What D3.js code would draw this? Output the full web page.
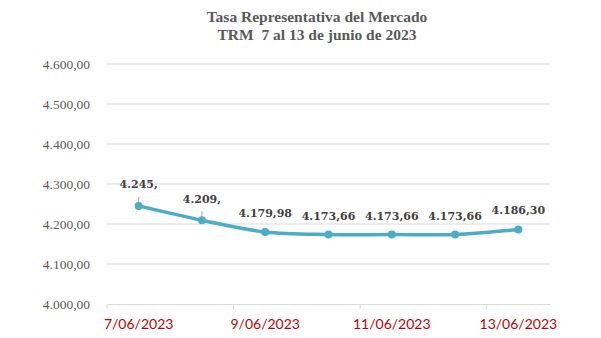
<!DOCTYPE html>
<html>
<head>
<meta charset="utf-8">
<script src="https://cdn.jsdelivr.net/npm/d3@7"></script>
<style>
  html, body { margin: 0; padding: 0; background: #fff; }
  svg { display: block; }
  .title { white-space: pre; }
</style>
</head>
<body>
<svg id="chart" width="601" height="338"></svg>
<script>
// TRM (Tasa Representativa del Mercado), 7–13 June 2023
const dates = ["7/06/2023", "8/06/2023", "9/06/2023", "10/06/2023", "11/06/2023", "12/06/2023", "13/06/2023"];
const trm = [4245.29, 4209.47, 4179.98, 4173.66, 4173.66, 4173.66, 4186.30];
const pointLabels = ["4.245,", "4.209,", "4.179,98", "4.173,66", "4.173,66", "4.173,66", "4.186,30"];
const yTicks = [4000, 4100, 4200, 4300, 4400, 4500, 4600];
const xTickLabels = ["7/06/2023", "9/06/2023", "11/06/2023", "13/06/2023"];
const titleLines = ["Tasa Representativa del Mercado", "TRM  7 al 13 de junio de 2023"];

const svg = d3.select("#chart");
const plot = { left: 107, right: 550, top: 64, bottom: 304 };

const x = d3.scaleBand().domain(dates).range([plot.left, plot.right]);
const y = d3.scaleLinear().domain([4000, 4600]).range([plot.bottom, plot.top]);
const cx = d => x(d) + x.bandwidth() / 2;

// Title
svg.append("g").selectAll("text").data(titleLines).join("text")
  .attr("class", "title")
  .attr("x", 317).attr("y", (d, i) => 22 + i * 18)
  .attr("text-anchor", "middle")
  .attr("font-family", "'Liberation Serif', serif")
  .attr("font-weight", "bold").attr("font-size", 15.5)
  .attr("fill", "#595959")
  .text(d => d);

// Horizontal gridlines and value axis labels
const yAxis = d3.axisLeft(y).tickValues(yTicks).tickSize(0).tickPadding(17)
  .tickFormat(v => d3.format(",.2f")(v).replace(/,/g, "#").replace(".", ",").replace(/#/g, "."));
const gy = svg.append("g").attr("transform", `translate(${plot.left},0)`).call(yAxis);
gy.select(".domain").remove();
gy.selectAll("text").attr("font-family", "'Liberation Serif', serif").attr("font-size", 13.5).attr("fill", "#595959");

svg.append("g").selectAll("line").data(yTicks.filter(v => v !== 4000)).join("line")
  .attr("x1", plot.left).attr("x2", plot.right)
  .attr("y1", d => y(d)).attr("y2", d => y(d))
  .attr("stroke", "#d9d9d9").attr("stroke-width", 1);

// Category axis
const xAxis = d3.axisBottom(x).tickSize(0).tickPadding(15)
  .tickFormat(d => xTickLabels.includes(d) ? d : "");
const gx = svg.append("g").attr("transform", `translate(0,${plot.bottom})`).call(xAxis);
gx.select(".domain").attr("stroke", "#d9d9d9");
gx.selectAll("text").attr("font-family", "Lato, sans-serif").attr("font-size", 14).attr("fill", "#c00000");
// tick marks every other category boundary
const boundaries = dates.filter((d, i) => i % 2 === 0).map(d => x(d));
svg.append("g").selectAll("line").data(boundaries).join("line")
  .attr("x1", d => d).attr("x2", d => d)
  .attr("y1", plot.bottom).attr("y2", plot.bottom + 5)
  .attr("stroke", "#d9d9d9");

// Series line
const line = d3.line().x((d, i) => cx(dates[i])).y(d => y(d)).curve(d3.curveCardinal.tension(0));
svg.append("path").datum(trm)
  .attr("d", line)
  .attr("fill", "none").attr("stroke", "#4bacc6").attr("stroke-width", 3.5)
  .attr("stroke-linecap", "round");

// Leader lines for the first two labels
svg.append("g").selectAll("line").data(trm.slice(0, 2)).join("line")
  .attr("x1", (d, i) => cx(dates[i])).attr("x2", (d, i) => cx(dates[i]))
  .attr("y1", d => y(d) - 9).attr("y2", d => y(d))
  .attr("stroke", "#a6a6a6").attr("stroke-width", 1);

// Markers
svg.append("g").selectAll("circle").data(trm).join("circle")
  .attr("cx", (d, i) => cx(dates[i])).attr("cy", d => y(d))
  .attr("r", 4).attr("fill", "#4bacc6");

// Data labels
const labelOffset = [18, 17, 15, 15, 15, 15, 15];
svg.append("g").selectAll("text").data(trm).join("text")
  .attr("x", (d, i) => cx(dates[i])).attr("y", (d, i) => y(d) - labelOffset[i])
  .attr("text-anchor", "middle")
  .attr("font-family", "'DejaVu Serif', serif").attr("font-weight", "bold").attr("font-size", 11)
  .attr("fill", "#404040")
  .text((d, i) => pointLabels[i]);
</script>
</body>
</html>
